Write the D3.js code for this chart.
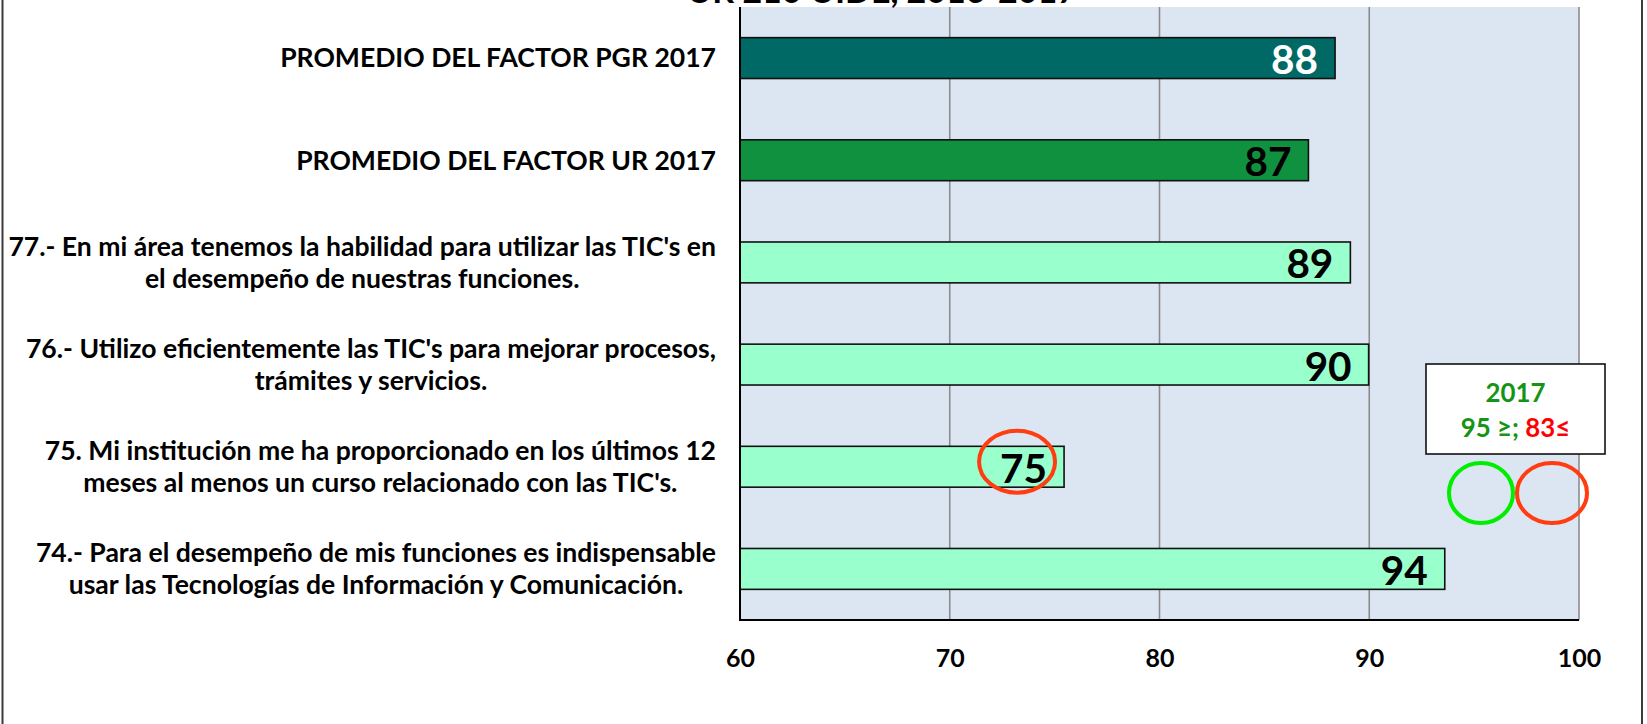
<!DOCTYPE html>
<html>
<head>
<meta charset="utf-8">
<script src="https://cdn.jsdelivr.net/npm/d3@7"></script>
<style>
  html, body { margin: 0; padding: 0; background: #fff; overflow: hidden; }
  svg { display: block; }
  text { font-family: Lato, "Open Sans", "DejaVu Sans", sans-serif; font-weight: 700; }
</style>
</head>
<body>
<svg id="chart" width="1647" height="724"></svg>
<script>
// ---------------- data ----------------
const titleText = "UR 210 UIDE, 2016-2017";
const categories = ["PGR", "UR", "77", "76", "75", "74"];
const categoryLines = [
  ["PROMEDIO DEL FACTOR PGR 2017"],
  ["PROMEDIO DEL FACTOR UR 2017"],
  ["77.- En mi área tenemos la habilidad para utilizar las TIC's en", "el desempeño de nuestras funciones."],
  ["76.- Utilizo eficientemente las TIC's para mejorar procesos,", "trámites y servicios."],
  ["75. Mi institución me ha proporcionado en los últimos 12", "meses al menos un curso relacionado con las TIC's."],
  ["74.- Para el desempeño de mis funciones es indispensable", "usar las Tecnologías de Información y Comunicación."]
];
const values = [88.37, 87.1, 89.1, 89.97, 75.45, 93.6];
const flagged = ["75"];               // values circled in red
const xTicks = [60, 70, 80, 90, 100];
const xDomain = [60, 100];
const legendYear = "2017";
const legendHigh = "95 ≥;";
const legendLow = "83≤";

// ---------------- styles ----------------
const barFill = { PGR: "#006865", UR: "#10913F" };
const defaultFill = "#99FFCC";
const labelColor = { PGR: "#ffffff" };

// ---------------- layout ----------------
const svg = d3.select("#chart");
const W = 1647, H = 724;
const plot = { left: 740, right: 1579, top: 7, bottom: 620 };

const x = d3.scaleLinear().domain(xDomain).range([plot.left, plot.right]);
const y = d3.scaleBand().domain(categories).range([plot.top, plot.bottom])
  .paddingInner(0.6).paddingOuter(0.3);

// helper: font size so that text has a target width
function fitSize(str, target, base) {
  const t = svg.append("text").attr("font-size", base).text(str);
  const w = t.node().getComputedTextLength();
  t.remove();
  return base * target / w;
}

// outer chart border
svg.append("rect").attr("x", 2.5).attr("y", -10).attr("width", 1639.5).attr("height", H + 20)
  .attr("fill", "#fff").attr("stroke", "#3a3a3a").attr("stroke-width", 2);

// plot background
svg.append("rect").attr("x", plot.left).attr("y", plot.top)
  .attr("width", plot.right - plot.left).attr("height", plot.bottom - plot.top)
  .attr("fill", "#DCE6F2");

// title (clipped at top in the reference)
const titleSize = fitSize(titleText, 390, 30);
svg.append("text").attr("x", 882).attr("y", 3).attr("text-anchor", "middle")
  .attr("font-size", titleSize).attr("fill", "#000").text(titleText);

// gridlines
svg.append("g").selectAll("line").data(xTicks.filter(d => d > xDomain[0])).join("line")
  .attr("x1", d => x(d)).attr("x2", d => x(d))
  .attr("y1", plot.top).attr("y2", plot.bottom)
  .attr("stroke", "#8c8c8c").attr("stroke-width", 1.6);

// bars
svg.append("g").selectAll("rect").data(categories).join("rect")
  .attr("x", x(xDomain[0]))
  .attr("y", d => y(d))
  .attr("width", (d, i) => x(values[i]) - x(xDomain[0]))
  .attr("height", y.bandwidth())
  .attr("fill", d => barFill[d] || defaultFill)
  .attr("stroke", "#111").attr("stroke-width", 1.6);

// axes lines (left and bottom)
svg.append("line").attr("x1", plot.left).attr("x2", plot.left)
  .attr("y1", plot.top).attr("y2", plot.bottom + 1).attr("stroke", "#000").attr("stroke-width", 2);
svg.append("line").attr("x1", plot.left).attr("x2", plot.right)
  .attr("y1", plot.bottom).attr("y2", plot.bottom).attr("stroke", "#000").attr("stroke-width", 2);

// x axis tick labels
const axisSize = fitSize("90", 29, 28);
const xAxis = d3.axisBottom(x).tickValues(xTicks).tickSize(0).tickPadding(0).tickFormat(d3.format("d"));
const gx = svg.append("g").attr("transform", `translate(0,${plot.bottom})`).call(xAxis);
gx.select(".domain").remove();
gx.selectAll("text").attr("y", 47).attr("dy", null)
  .attr("font-size", axisSize).attr("fill", "#000")
  .style("font-family", "Lato, 'Open Sans', sans-serif").style("font-weight", 700);

// data labels
const dataSize = fitSize("88", 47, 46);
const fmt = d3.format(".0f");
const dl = svg.append("g").selectAll("text").data(categories).join("text")
  .attr("x", (d, i) => x(values[i]) - 17)
  .attr("y", d => y(d) + y.bandwidth() / 2 + 16)
  .attr("text-anchor", "end")
  .attr("font-size", dataSize)
  .attr("fill", d => labelColor[d] || "#000")
  .text((d, i) => fmt(values[i]));

// red ellipse around flagged values
svg.append("g").selectAll("ellipse").data(categories.filter(c => flagged.includes(c))).join("ellipse")
  .attr("cx", d => x(values[categories.indexOf(d)]) - 47)
  .attr("cy", d => y(d) + y.bandwidth() / 2 - 5)
  .attr("rx", 38).attr("ry", 31)
  .attr("fill", "none").attr("stroke", "#FF3D10").attr("stroke-width", 4);

// category labels
const catSize = fitSize(categoryLines[2][0], 708, 24);
const lineH = 32;
const labelRight = 716;
const cg = svg.append("g");
categories.forEach((c, i) => {
  const lines = categoryLines[i];
  const widths = lines.map(l => {
    const t = cg.append("text").attr("font-size", catSize).text(l);
    const w = t.node().getComputedTextLength(); t.remove(); return w;
  });
  const maxW = d3.max(widths);
  const cx = labelRight - maxW / 2;
  const cy = y(c) + y.bandwidth() / 2;
  lines.forEach((l, j) => {
    cg.append("text")
      .attr("x", cx)
      .attr("y", cy + (j - (lines.length - 1) / 2) * lineH)
      .attr("dy", "0.35em")
      .attr("text-anchor", "middle")
      .attr("font-size", catSize)
      .attr("fill", "#000")
      .text(l);
  });
});

// legend box
const lg = svg.append("g");
lg.append("rect").attr("x", 1426).attr("y", 364).attr("width", 179).attr("height", 90)
  .attr("fill", "#fff").attr("stroke", "#111").attr("stroke-width", 1.6);
const legSize = fitSize(legendYear, 60, 29);
lg.append("text").attr("x", 1515.5).attr("y", 402).attr("text-anchor", "middle")
  .attr("font-size", legSize).attr("fill", "#159515").text(legendYear);
const lt = lg.append("text").attr("x", 1515.5).attr("y", 437).attr("text-anchor", "middle")
  .attr("font-size", legSize);
lt.append("tspan").attr("fill", "#159515").text(legendHigh + " ");
lt.append("tspan").attr("fill", "#FF0000").text(legendLow);

// legend ellipses
lg.append("ellipse").attr("cx", 1481).attr("cy", 493).attr("rx", 32).attr("ry", 30)
  .attr("fill", "none").attr("stroke", "#00EE00").attr("stroke-width", 4);
lg.append("ellipse").attr("cx", 1552).attr("cy", 493).attr("rx", 35).attr("ry", 30)
  .attr("fill", "none").attr("stroke", "#FF3D10").attr("stroke-width", 4);
</script>
</body>
</html>
